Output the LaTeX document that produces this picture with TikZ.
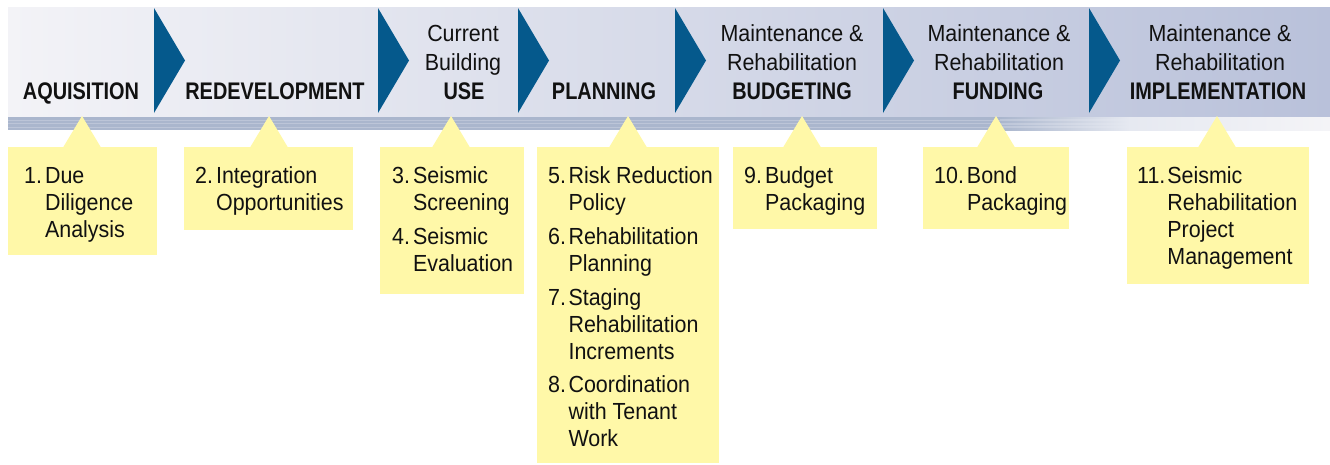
\documentclass[tikz,border=0pt]{standalone}
\usepackage{fontspec}
\setmainfont{Liberation Sans}
\newfontfamily\bodyf{Liberation Sans}[FakeStretch=0.92]
\newfontfamily\capf{Liberation Sans}[FakeStretch=0.83]
\usetikzlibrary{calc}
\definecolor{bannerL}{HTML}{F3F3F7}
\definecolor{bannerR}{HTML}{B9C1DA}
\definecolor{bandc}{HTML}{AAB6CD}
\definecolor{bandline}{HTML}{BCC5D8}
\definecolor{bandfade}{HTML}{E6E9F1}
\definecolor{bandend}{HTML}{F4F4F7}
\definecolor{chevblue}{HTML}{05598C}
\definecolor{yel}{HTML}{FFF8A8}
\definecolor{txt}{HTML}{111111}
\tikzset{
  chevron/.style={fill=chevblue},
  ybox/.style={fill=yel, draw=none, inner sep=0pt, outer sep=0pt, anchor=north west},
  ytab/.style={fill=yel},
  itm/.style={anchor=base west, inner sep=0pt, text=txt, font=\bodyf\fontsize{23.3}{27}\selectfont},
  hdr/.style={anchor=base, inner sep=0pt, text=txt, font=\bodyf\fontsize{23.3}{27}\selectfont},
  hdrb/.style={anchor=base, inner sep=0pt, text=txt, font=\capf\bfseries\fontsize{24}{27}\selectfont},
}
\begin{document}
\begin{tikzpicture}[x=1pt,y=-1pt]
\useasboundingbox (0,0) rectangle (1330,464);
% banner
\shade[left color=bannerL, right color=bannerR] (8,7) rectangle (1330,117);
% stripe band
\fill[bandc] (8,117) rectangle (1000,130);
\shade[left color=bandc, right color=bandfade] (1000,117) rectangle (1130,130);
\shade[left color=bandfade, right color=bandend] (1130,117) rectangle (1330,130);
\foreach \ly in {120,123.5,127}{
  \fill[bandline] (8,\ly-0.5) rectangle (1000,\ly+0.5);
  \shade[left color=bandline, right color=bandfade] (1000,\ly-0.5) rectangle (1130,\ly+0.5);
}
% chevrons
\foreach \cx in {154,378,518,675,883,1089}{
  \fill[chevron] (\cx,8) -- (\cx+31,60.5) -- (\cx,113) -- cycle;
}
% header texts
\node[hdrb] (h1) at (81,99) {AQUISITION};
\node[hdrb] (h2) at (275,99) {REDEVELOPMENT};
\node[hdr] (h3a) at (463,41) {Current};
\node[hdr] (h3b) at (463,70) {Building};
\node[hdrb] (h3c) at (464,99) {USE};
\node[hdrb] (h4) at (604,99) {PLANNING};
\node[hdr] (h5a) at (792,41) {Maintenance \&};
\node[hdr] (h5b) at (792,70) {Rehabilitation};
\node[hdrb] (h5c) at (792,99) {BUDGETING};
\node[hdr] (h6a) at (999,41) {Maintenance \&};
\node[hdr] (h6b) at (999,70) {Rehabilitation};
\node[hdrb] (h6c) at (998,99) {FUNDING};
\node[hdr] (h7a) at (1220,41) {Maintenance \&};
\node[hdr] (h7b) at (1220,70) {Rehabilitation};
\node[hdrb] (h7c) at (1218,99) {IMPLEMENTATION};
% yellow boxes
\node[ybox, minimum width=149pt, minimum height=108pt] (b1) at (8,147) {};
\node[ybox, minimum width=169pt, minimum height=83pt] (b2) at (184,147) {};
\node[ybox, minimum width=144pt, minimum height=147pt] (b3) at (380,147) {};
\node[ybox, minimum width=182pt, minimum height=316pt] (b4) at (537,147) {};
\node[ybox, minimum width=144pt, minimum height=82pt] (b5) at (733,147) {};
\node[ybox, minimum width=146pt, minimum height=82pt] (b6) at (923,147) {};
\node[ybox, minimum width=182pt, minimum height=137pt] (b7) at (1127,147) {};
% tabs
\foreach \ax in {82,269,451,628,802,996,1217}{
  \fill[ytab] (\ax-19,147.5) -- (\ax,116) -- (\ax+19,147.5) -- cycle;
}
% box texts
\node[itm] (t1) at (24,183) {\begin{tabular}[t]{@{}l@{\hspace{3pt}}l@{}}1.&Due\\&Diligence\\&Analysis\end{tabular}};
\node[itm] (t2) at (195,183) {\begin{tabular}[t]{@{}l@{\hspace{3pt}}l@{}}2.&Integration\\&Opportunities\end{tabular}};
\node[itm] (t3) at (392,183) {\begin{tabular}[t]{@{}l@{\hspace{3pt}}l@{}}3.&Seismic\\&Screening\\[7pt]4.&Seismic\\&Evaluation\end{tabular}};
\node[itm] (t4) at (548,183) {\begin{tabular}[t]{@{}l@{\hspace{2.5pt}}l@{}}5.&Risk Reduction\\&Policy\\[7pt]6.&Rehabilitation\\&Planning\\[7pt]7.&Staging\\&Rehabilitation\\&Increments\\[6pt]8.&Coordination\\&with Tenant\\&Work\end{tabular}};
\node[itm] (t5) at (744,183) {\begin{tabular}[t]{@{}l@{\hspace{3pt}}l@{}}9.&Budget\\&Packaging\end{tabular}};
\node[itm] (t6) at (934,183) {\begin{tabular}[t]{@{}l@{\hspace{3pt}}l@{}}10.&Bond\\&Packaging\end{tabular}};
\node[itm] (t7) at (1137,183) {\begin{tabular}[t]{@{}l@{\hspace{2pt}}l@{}}11.&Seismic\\&Rehabilitation\\&Project\\&Management\end{tabular}};
\end{tikzpicture}
\end{document}
